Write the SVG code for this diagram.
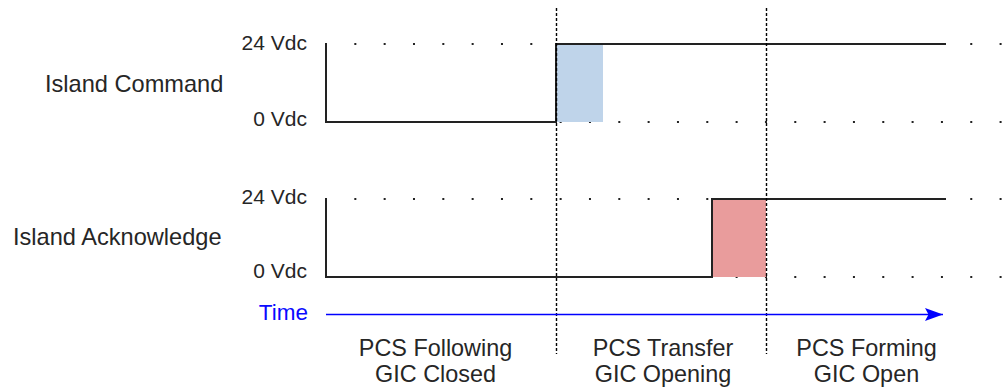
<svg xmlns="http://www.w3.org/2000/svg" width="1008" height="388" viewBox="0 0 1008 388">
<style>
text{font-family:"Liberation Sans",Arial,sans-serif;fill:#262626}
.lbl{font-size:23.6px}
.v{font-size:21px;text-anchor:end}
.ph{font-size:23.4px;text-anchor:middle}
.dot{stroke:#222;stroke-width:2;stroke-dasharray:2 27.33;fill:none}
.sig{stroke:#222;stroke-width:2;fill:none}
.div{stroke:#000;stroke-width:1.4;stroke-dasharray:3 2;fill:none}
</style>
<defs>
<marker id="arr" markerUnits="userSpaceOnUse" markerWidth="20" markerHeight="16" refX="18" refY="8" orient="auto">
<path d="M0,1.5 L18,8 L0,14.5 L3.5,8 Z" fill="#0000ff"/>
</marker>
</defs>
<rect width="1008" height="388" fill="#fff"/>
<g id="grid">
<line class="dot" x1="325" y1="44" x2="1006" y2="44"/>
<line class="dot" x1="325" y1="122" x2="1006" y2="122"/>
<line class="dot" x1="325" y1="199" x2="1006" y2="199"/>
<line class="dot" x1="325" y1="277" x2="1006" y2="277"/>
</g>
<g id="island-command">
<rect x="556" y="44" width="47" height="78" fill="#bfd4ea"/>
<path class="sig" d="M326,45 L326,122 L556,122 L556,44 L946,44"/>
<text class="lbl" x="45" y="91.5">Island Command</text>
<text class="v" x="307" y="50">24 Vdc</text>
<text class="v" x="307" y="126">0 Vdc</text>
</g>
<g id="island-acknowledge">
<rect x="712" y="199" width="54" height="78" fill="#e99c9c"/>
<path class="sig" d="M326,200 L326,277 L712,277 L712,199 L946,199"/>
<text class="lbl" x="13" y="245">Island Acknowledge</text>
<text class="v" x="307" y="203.5">24 Vdc</text>
<text class="v" x="307" y="277.5">0 Vdc</text>
</g>
<g id="connectors">
<line class="div" x1="556.5" y1="8" x2="556.5" y2="354"/>
<line class="div" x1="766.5" y1="8" x2="766.5" y2="354"/>
<line x1="326" y1="314.5" x2="943" y2="314.5" stroke="#0000ff" stroke-width="1.6" marker-end="url(#arr)"/>
</g>
<g id="time-label">
<text x="308" y="319.5" style="font-size:22.5px;text-anchor:end;fill:#0a0aff">Time</text>
</g>
<g id="phase-following">
<text class="ph" x="435.5" y="355.5">PCS Following</text>
<text class="ph" x="435.5" y="381.5">GIC Closed</text>
</g>
<g id="phase-transfer">
<text class="ph" x="663" y="355.5">PCS Transfer</text>
<text class="ph" x="663" y="381.5">GIC Opening</text>
</g>
<g id="phase-forming">
<text class="ph" x="866.5" y="355.5">PCS Forming</text>
<text class="ph" x="866.5" y="381.5">GIC Open</text>
</g>
</svg>
